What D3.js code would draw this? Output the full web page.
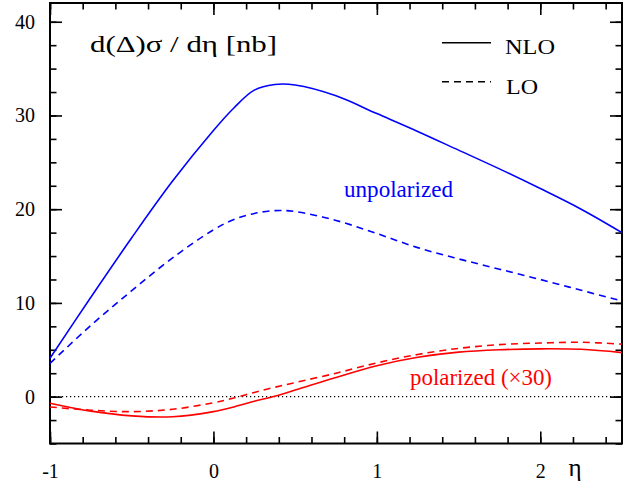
<!DOCTYPE html>
<html>
<head>
<meta charset="utf-8">
<script src="https://cdn.jsdelivr.net/npm/d3@7"></script>
<style>
  body { margin: 0; background: #fff; }
  svg text { font-family: "Liberation Serif", "DejaVu Serif", "Times New Roman", serif !important; }
  .axis path, .axis line { stroke: #000; }
  .axis .domain { display: none; }
</style>
</head>
<body>
<div id="chart"></div>
<script>
// eta grid and the four curves
var eta      = [-1, -0.75, -0.5, -0.25, 0, 0.125, 0.25, 0.375, 0.5, 0.75, 1, 1.25, 1.5, 1.75, 2, 2.25, 2.5]
var unpolNLO = [4.1, 10.6, 16.95, 23.0, 28.4, 30.8, 32.7, 33.3, 33.25, 32.1, 30.2, 28.3, 26.3, 24.3, 22.2, 20.0, 17.5]
var unpolLO  = [3.55, 7.6, 11.3, 14.8, 17.8, 18.9, 19.55, 19.85, 19.75, 18.8, 17.4, 15.9, 14.7, 13.6, 12.5, 11.35, 10.2]
var polNLO   = [-0.7, -1.55, -2.05, -2.15, -1.6, -1.1, -0.5, 0.05, 0.7, 2.05, 3.3, 4.2, 4.75, 5.0, 5.1, 5.05, 4.7]
var polLO    = [-1.1, -1.45, -1.6, -1.35, -0.65, -0.15, 0.45, 1.0, 1.5, 2.5, 3.6, 4.5, 5.15, 5.55, 5.72, 5.8, 5.6]

var xMajor = [-1, 0, 1, 2]
var yMajor = [0, 10, 20, 30, 40]

var W = 636, H = 491
var svg = d3.select('#chart').append('svg').attr('width', W).attr('height', H)

var x = d3.scaleLinear().domain([-1, 2.5]).range([50, 622])
var y = d3.scaleLinear().domain([-5, 42]).range([443.5, 3])

var xMinor = d3.range(-1, 2.51, 0.2).map(function(d){ return +d.toFixed(1) })
var yMinor = d3.range(-5, 42, 2.5)

function tickAxis(axisFn, scale, vals, len, labels){
  var a = axisFn(scale).tickValues(vals).tickSizeInner(-len).tickSizeOuter(0)
  a.tickFormat(labels ? function(d){ return String(d) } : '')
  return a
}

var x0 = x.range()[0], x1 = x.range()[1], y0 = y.range()[0], y1 = y.range()[1]

// minor ticks on all four sides
svg.append('g').attr('class', 'axis').attr('transform', 'translate(0,' + y0 + ')')
  .call(tickAxis(d3.axisBottom, x, xMinor, 6.5, false))
svg.append('g').attr('class', 'axis').attr('transform', 'translate(0,' + y1 + ')')
  .call(tickAxis(d3.axisTop, x, xMinor, 6.5, false))
svg.append('g').attr('class', 'axis').attr('transform', 'translate(' + x0 + ',0)')
  .call(tickAxis(d3.axisLeft, y, yMinor, 6.5, false))
svg.append('g').attr('class', 'axis').attr('transform', 'translate(' + x1 + ',0)')
  .call(tickAxis(d3.axisRight, y, yMinor, 6.5, false))

// major ticks
var bx = svg.append('g').attr('class', 'axis').attr('transform', 'translate(0,' + y0 + ')')
  .call(tickAxis(d3.axisBottom, x, xMajor, 12, true).tickPadding(20))
svg.append('g').attr('class', 'axis').attr('transform', 'translate(0,' + y1 + ')')
  .call(tickAxis(d3.axisTop, x, xMajor, 12, false))
var ly = svg.append('g').attr('class', 'axis').attr('transform', 'translate(' + x0 + ',0)')
  .call(tickAxis(d3.axisLeft, y, yMajor, 12, true).tickPadding(15))
svg.append('g').attr('class', 'axis').attr('transform', 'translate(' + x1 + ',0)')
  .call(tickAxis(d3.axisRight, y, yMajor, 12, false))

svg.selectAll('.axis').attr('font-family', null)
svg.selectAll('.axis line').attr('stroke-width', 1.6)
bx.selectAll('text').attr('font-size', 20).attr('fill', '#000').attr('dy', '0.71em')
ly.selectAll('text').attr('font-size', 20).attr('fill', '#000')

// frame
svg.append('rect').attr('x', x0).attr('y', y1).attr('width', x1 - x0).attr('height', y0 - y1)
  .attr('fill', 'none').attr('stroke', '#000').attr('stroke-width', 2)

// zero line
svg.append('line').attr('x1', x0).attr('x2', x1).attr('y1', y(0)).attr('y2', y(0))
  .attr('stroke', '#000').attr('stroke-width', 1.2).attr('stroke-dasharray', '1.2,2.8')

var line = d3.line().curve(d3.curveCatmullRom.alpha(0.5))
  .x(function(d, i){ return x(eta[i]) })
  .y(function(d){ return y(d) })

var series = [
  {vals: unpolNLO, color: '#0000ff', dash: null},
  {vals: unpolLO,  color: '#0000ff', dash: '7,5'},
  {vals: polNLO,   color: '#ff0000', dash: null},
  {vals: polLO,    color: '#ff0000', dash: '7,5'}
]
series.forEach(function(s){
  svg.append('path').attr('d', line(s.vals)).attr('fill', 'none')
    .attr('stroke', s.color).attr('stroke-width', 1.6)
    .attr('stroke-dasharray', s.dash)
})

// texts (widths stretched to match the original's wide type)
function label(tx, ty, size, len, txt, color){
  return svg.append('text').attr('x', tx).attr('y', ty).attr('font-size', size)
    .attr('textLength', len).attr('lengthAdjust', 'spacingAndGlyphs')
    .attr('fill', color || '#000').text(txt)
}
label(90, 52, 24, 187, 'd(\u0394)\u03c3 / d\u03b7 [nb]')
svg.append('text').attr('x', 575).attr('y', 476).attr('font-size', 25)
  .attr('text-anchor', 'middle').text('\u03b7')

svg.append('line').attr('x1', 442).attr('x2', 491).attr('y1', 42.7).attr('y2', 42.7)
  .attr('stroke', '#000').attr('stroke-width', 1.6)
label(505, 54, 22, 50, 'NLO')
svg.append('line').attr('x1', 442).attr('x2', 491).attr('y1', 81.7).attr('y2', 81.7)
  .attr('stroke', '#000').attr('stroke-width', 1.6).attr('stroke-dasharray', '7,5')
label(506, 94, 22, 32, 'LO')

label(344, 197, 23, 109, 'unpolarized', '#0000ff')
label(410, 385, 24, 142, 'polarized (\u00d730)', '#ff0000')
</script>
</body>
</html>
